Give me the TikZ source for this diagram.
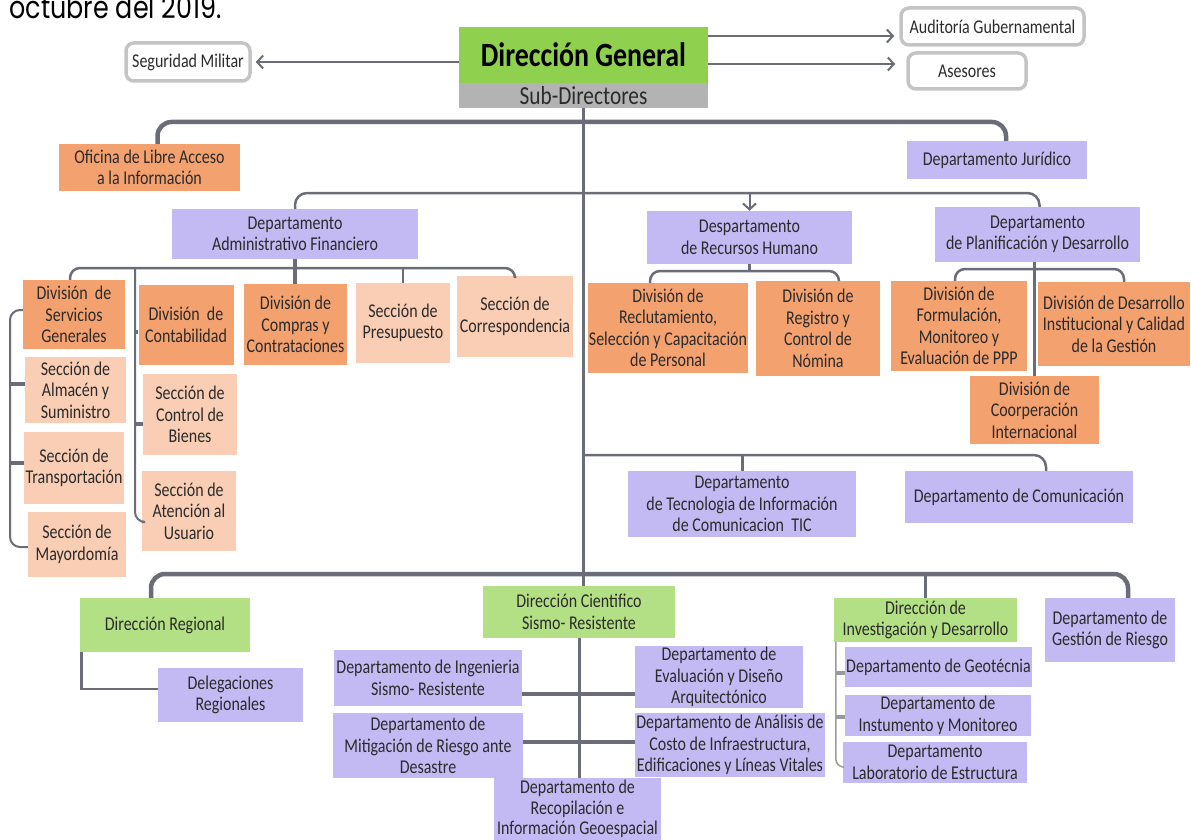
\documentclass[tikz,border=0pt]{standalone}
\usepackage{fontspec}
\setmainfont[FakeStretch=0.82]{Carlito}
\newfontfamily\datefont[FakeStretch=0.82]{Poppins}
\usetikzlibrary{arrows.meta}
\definecolor{naranja}{HTML}{F4A170}
\definecolor{durazno}{HTML}{F9CEB5}
\definecolor{lila}{HTML}{C3BAF4}
\definecolor{verdeclaro}{HTML}{B3E085}
\definecolor{verde}{HTML}{8FD14F}
\definecolor{gris}{HTML}{B3B3B3}
\definecolor{linea}{HTML}{6A6D77}
\definecolor{marco}{HTML}{C4C4C4}
\definecolor{texto}{HTML}{2B2B2B}

\begin{document}
\begin{tikzpicture}[x=1pt, y=-1pt,
    unidad/.style={rectangle, align=center, inner sep=1pt, text=texto, font=\fontsize{19.5}{21.5}\selectfont},
    div/.style={unidad, fill=naranja},
    sec/.style={unidad, fill=durazno},
    depto/.style={unidad, fill=lila},
    direc/.style={unidad, fill=verdeclaro},
    asesor/.style={unidad, draw=marco, line width=3.5, rounded corners=8, fill=white},
    bus/.style={draw=linea, line width=4.5},
    rama/.style={draw=linea, line width=2.5},
    guia/.style={draw=linea, line width=2},
    tic/.style={draw=linea, line width=4},
    fina/.style={draw=marco!80!black, line width=1.5},
    flecha/.style={draw=linea, line width=2, -{Straight Barb[length=6,width=13]}}]
    \useasboundingbox (0,0) rectangle (1191,840);
    \node[anchor=base west, text=black, font=\datefont\fontsize{31}{32}\selectfont] (fecha) at (6,19) {octubre del 2019.};

    \node[unidad, fill=verde, minimum width=249, minimum height=56, font=\bfseries\fontsize{34}{36}\selectfont, text=black] (dg) at (583.5,55) {Dirección General};
    \node[unidad, fill=gris, minimum width=249, minimum height=25, font=\fontsize{26}{28}\selectfont] (sub) at (583.5,95.5) {Sub-Directores};
    \node[asesor, minimum width=124, minimum height=38] (seg) at (188,62) {Seguridad Militar};
    \node[asesor, minimum width=183, minimum height=37] (aud) at (992.5,26.5) {Auditoría Gubernamental};
    \node[asesor, minimum width=118, minimum height=36] (ase) at (967,71) {Asesores};
    \draw[flecha, shorten >=4] (dg.west |- seg.east) -- (seg.east);
    \draw[flecha, shorten >=5] ([yshift=19]dg.east) -- ([yshift=19]dg.east -| aud.west);
    \draw[flecha, shorten >=11] ([yshift=-9]dg.east) -- ([yshift=-9]dg.east -| ase.west);

    \node[div, minimum width=181, minimum height=47] (ofi) at (149.5,167.5) {Oficina de Libre Acceso\\a la Información};
    \node[depto, minimum width=180, minimum height=38] (jur) at (997,160) {Departamento Jurídico};
    \node[depto, minimum width=246, minimum height=50] (adm) at (295,234) {Departamento\\Administrativo Financiero};
    \node[depto, minimum width=205, minimum height=53] (rh) at (749.5,237.5) {Despartamento\\de Recursos Humano};
    \node[depto, minimum width=205, minimum height=55] (plan) at (1037.5,234.5) {Departamento\\de Planificación y Desarrollo};

    \node[div, minimum width=102, minimum height=69] (sg) at (74,314.5) {División\ \ de\\Servicios\\Generales};
    \node[sec, minimum width=101, minimum height=66] (alm) at (75.5,390) {Sección de\\Almacén y\\Suministro};
    \node[sec, minimum width=100, minimum height=72] (tra) at (74,468) {Sección de\\Transportación};
    \node[sec, minimum width=98, minimum height=65] (may) at (77,544.5) {Sección de\\Mayordomía};
    \node[div, minimum width=95, minimum height=80] (con) at (186,325) {División\ \ de\\Contabilidad};
    \node[sec, minimum width=94, minimum height=81] (cbi) at (190,414.5) {Sección de\\Control de\\Bienes};
    \node[sec, minimum width=94, minimum height=80] (ate) at (189,511) {Sección de\\Atención al\\Usuario};
    \node[div, minimum width=103, minimum height=81] (com) at (295.5,324.5) {División de\\Compras y\\Contrataciones};
    \node[sec, minimum width=94, minimum height=80] (pre) at (403,323) {Sección de\\Presupuesto};
    \node[sec, minimum width=116, minimum height=81] (cor) at (515,316.5) {Sección de\\Correspondencia};

    \node[div, minimum width=160, minimum height=90] (rec) at (668,328) {División de\\Reclutamiento,\\Selección y Capacitación\\de Personal};
    \node[div, minimum width=124, minimum height=95] (reg) at (818,328.5) {División de\\Registro y\\Control de\\Nómina};
    \node[div, minimum width=136, minimum height=90] (form) at (959,326) {División de\\Formulación,\\Monitoreo y\\Evaluación de PPP};
    \node[div, minimum width=152, minimum height=84] (dins) at (1114,324) {División de Desarrollo\\Institucional y Calidad\\de la Gestión};
    \node[div, minimum width=129, minimum height=68] (coop) at (1034.5,410) {División de\\Coorperación\\Internacional};

    \node[depto, minimum width=228, minimum height=66] (tic) at (742,504) {Departamento\\de Tecnologia de Información\\de Comunicacion\ \ TIC};
    \node[depto, minimum width=228, minimum height=52] (comu) at (1019,497) {Departamento de Comunicación};

    \node[direc, minimum width=170, minimum height=54] (dreg) at (165,625) {Dirección Regional};
    \node[depto, minimum width=145, minimum height=54] (del) at (230.5,695) {Delegaciones\\Regionales};
    \node[direc, minimum width=192, minimum height=52] (sci) at (579,612) {Dirección Cientifico\\Sismo- Resistente};
    \node[depto, minimum width=188, minimum height=56] (ing) at (428,678) {Departamento de Ingenieria\\Sismo- Resistente};
    \node[depto, minimum width=190, minimum height=65] (mit) at (428,745.5) {Departamento de\\Mitigación de Riesgo ante\\Desastre};
    \node[depto, minimum width=168, minimum height=60] (eva) at (719,677) {Departamento de\\Evaluación y Diseño\\Arquitectónico};
    \node[depto, minimum width=190, minimum height=64] (ana) at (730,745) {Departamento de Análisis de\\Costo de Infraestructura,\\Edificaciones y Líneas Vitales};
    \node[depto, minimum width=167, minimum height=62, font=\fontsize{19.5}{20.5}\selectfont] (rcp) at (577.5,809) {Departamento de\\Recopilación e\\Información Geoespacial};
    \node[direc, minimum width=183, minimum height=44] (inv) at (925.5,620) {Dirección de\\Investigación y Desarrollo};
    \node[depto, minimum width=187, minimum height=40] (geo) at (938.5,667) {Departamento de Geotécnia};
    \node[depto, minimum width=186, minimum height=41] (ins) at (938,715.5) {Departamento de\\Instumento y Monitoreo};
    \node[depto, minimum width=184, minimum height=41] (lab) at (935,762.5) {Departamento\\Laboratorio de Estructura};
    \node[depto, minimum width=130, minimum height=64] (ges) at (1110,630) {Departamento de\\Gestión de Riesgo};

    \coordinate (b1) at (583,122);
    \coordinate (b2) at (583,193);
    \coordinate (b3) at (295,268);
    \coordinate (b4) at (749.5,271);
    \coordinate (b5) at (1037,269);
    \coordinate (b6) at (583,455);
    \coordinate (b7) at (583,574);
    \coordinate (k1) at (10,430);
    \coordinate (k2) at (135,268);
    \coordinate (k3) at (836,700);

    \draw[bus, line width=3] (sub.south) -- (sub.south |- sci.north);
    \draw[bus, rounded corners=14] ([xshift=8]ofi.north) |- (b1) -| ([xshift=9]jur.north);
    \draw[rama, rounded corners=12] (adm.north) |- (b2) -| ([xshift=2]plan.north);
    \draw[flecha] (rh.north |- b2) -- (rh.north);

    \draw[rama, rounded corners=10] ([xshift=-4]sg.north) |- (b3) -| (cor.north);
    \draw[rama, line width=4] (adm.south) -- (adm.south |- com.north);
    \draw[rama] (pre.north |- b3) -- (pre.north);
    \draw[guia, rounded corners=10] ([yshift=4.5]sg.west) -| (k1) |- ([yshift=-2.5]may.west);
    \draw[tic] ([yshift=6]alm.west) -- ([yshift=6]alm.west -| k1);
    \draw[tic] ([yshift=5]tra.west) -- ([yshift=5]tra.west -| k1);
    \draw[guia, rounded corners=10] (k2) |- ([yshift=-11]ate.west);
    \draw[tic] ([yshift=-7]con.west) -- ([yshift=-7]con.west -| k2);
    \draw[tic] ([yshift=-9.5]cbi.west) -- ([yshift=-9.5]cbi.west -| k2);

    \draw[rama, rounded corners=10] ([xshift=-18]rec.north) |- (b4) -| ([xshift=21]reg.north);
    \draw[rama] (rh.south) -- (b4);
    \draw[rama, rounded corners=10] ([xshift=-4]form.north) |- (b5) -| ([xshift=10]dins.north);
    \draw[rama, line width=3] (plan.south -| coop.north) -- (coop.north);

    \draw[rama, rounded corners=12] (b6) -| ([xshift=27]comu.north);
    \draw[rama, line width=3] (tic.north |- b6) -- (tic.north);

    \draw[bus, rounded corners=14] ([xshift=-14]dreg.north) |- (b7) -| ([xshift=18]ges.north);
    \draw[rama, line width=3] (inv.north |- b7) -- (inv.north);
    \draw[rama] ([xshift=1.5]dreg.south west) |- ([yshift=6]del.west);

    \draw[rama, line width=3] (sci.south) -- (sci.south |- rcp.north);
    \draw[rama, line width=3.5] ([yshift=-16]ing.east) -- ([yshift=-16]ing.east -| eva.west);
    \draw[rama, line width=3.5] ([yshift=3.5]mit.east) -- ([yshift=3.5]mit.east -| ana.west);

    \draw[fina, rounded corners=8] ([xshift=2]inv.south west) |- ([yshift=-4.5]lab.west);
    \draw[tic, draw=linea!70] ([yshift=-6]geo.west) -- ([yshift=-6]geo.west -| k3);
    \draw[tic, draw=linea!70] ([yshift=-1.5]ins.west) -- ([yshift=-1.5]ins.west -| k3);
\end{tikzpicture}
\end{document}
